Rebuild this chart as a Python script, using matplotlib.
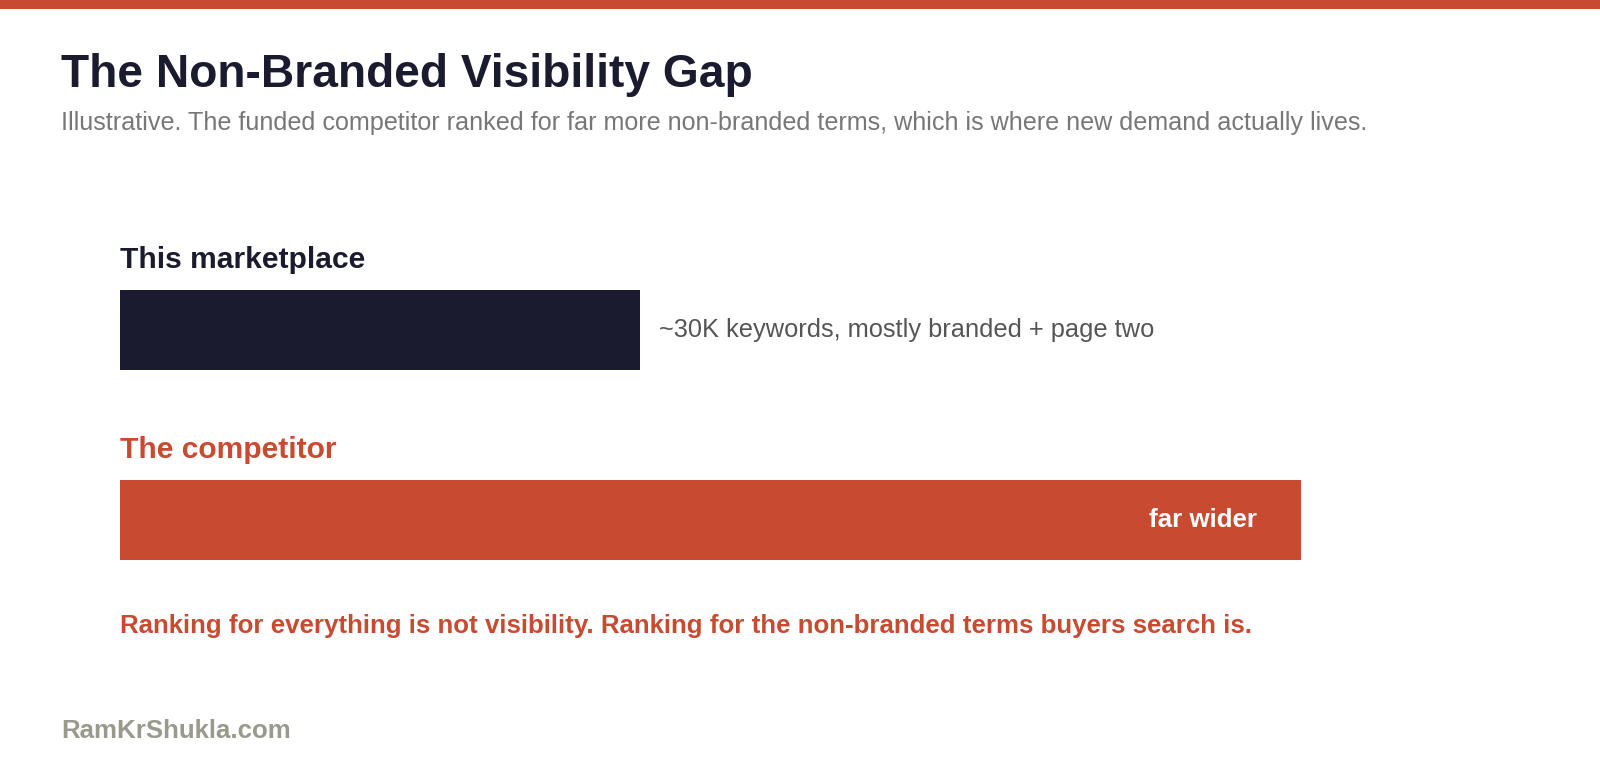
"""Non-branded visibility gap: two horizontal bars with annotations."""
import matplotlib
matplotlib.use('Agg')
import matplotlib.pyplot as plt

plt.rcParams['font.family'] = ['Liberation Sans', 'DejaVu Sans']

# Data
groups = ['This marketplace', 'The competitor']
widths = [44, 100]          # relative reach, illustrative
bar_notes = ['~30K keywords, mostly branded + page two', 'far wider']
title = 'The Non-Branded Visibility Gap'
subtitle = ('Illustrative. The funded competitor ranked for far more non-branded terms, '
            'which is where new demand actually lives.')
takeaway = ('Ranking for everything is not visibility. '
            'Ranking for the non-branded terms buyers search is.')
footer = 'RamKrShukla.com'

NAVY = '#1b1b2f'
RUST = '#c84b31'
W, H = 1600, 760

fig = plt.figure(figsize=(W / 100, H / 100), dpi=100)
fig.patch.set_facecolor('white')

def fx(px): return px / W
def fy(py): return 1 - py / H

# top accent strip
fig.add_artist(plt.Rectangle((0, fy(9)), 1, 9 / H, transform=fig.transFigure,
                             color=RUST, lw=0))

fig.text(fx(61), fy(87), title, fontsize=33.2, fontweight='bold', color=NAVY, va='baseline')
fig.text(fx(61), fy(129.6), subtitle, fontsize=18.1, color='#777777', va='baseline')

# bar axes: left edge at 120px, x=100 at 1301px, bars at y=0 and y=1
ax = fig.add_axes([fx(120.4), fy(560.2), fx(1301 - 120.4), (560.2 - 289.8) / H])
h = 80.6 / 189.8
ax.barh(range(len(groups)), widths, height=h, color=[NAVY, RUST], lw=0)
ax.set_xlim(0, 100)
ax.set_ylim(1 + h / 2, -h / 2)
ax.axis('off')

ax.text(widths[0] + 1.66, 0, bar_notes[0], fontsize=18.3, color='#555555', va='center', ha='left')
ax.text(widths[1] - 3.7, 1, bar_notes[1], fontsize=18.6, color='white', fontweight='bold',
        va='center', ha='right')

fig.text(fx(120.4), fy(268.4), groups[0], fontsize=21.6, fontweight='bold', color=NAVY, va='baseline')
fig.text(fx(120.4), fy(458), groups[1], fontsize=21.6, fontweight='bold', color=RUST, va='baseline')

fig.text(fx(120.4), fy(632.7), takeaway, fontsize=18.6, fontweight='bold', color=RUST, va='baseline')
fig.text(fx(61), fy(737.8), footer, fontsize=18.6, fontweight='bold', color='#9a998e', va='baseline')

fig.savefig('out.png', dpi=100, facecolor='white')
